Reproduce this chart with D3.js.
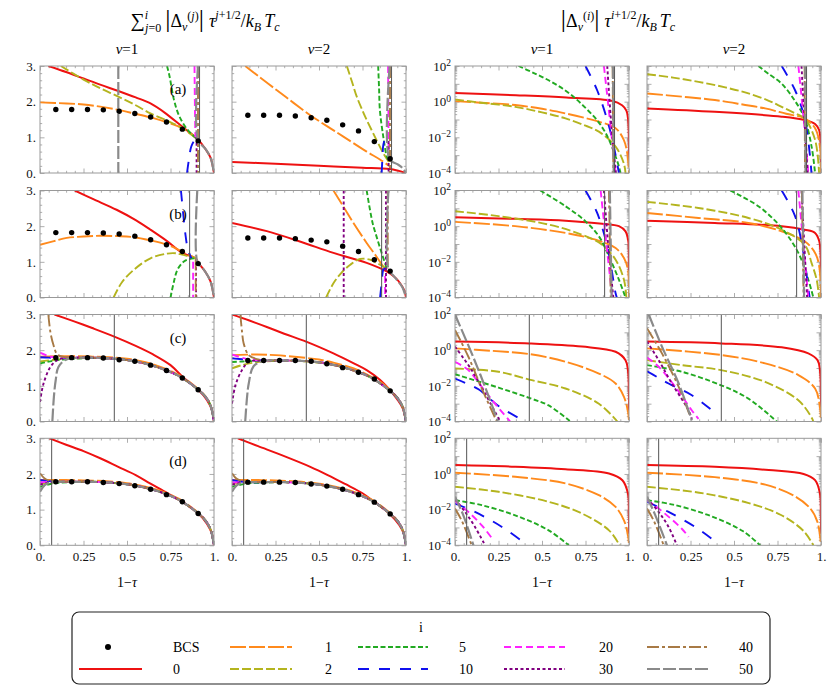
<!DOCTYPE html>
<html>
<head>
<meta charset="utf-8">
<script src="https://cdn.jsdelivr.net/npm/d3@7"></script>
<style>
  body { margin: 0; background: #fff; }
  svg, svg text { font-family: "Liberation Serif", "DejaVu Serif", serif; }
</style>
</head>
<body>
<script>
(function() {

    // Orders i and their look (same as in the legend).
    const orders = [0, 1, 2, 5, 10, 20, 30, 40, 50];
    const orderColors = ['#ee1111', '#ff8a1c', '#b4b41e', '#22aa22', '#1010ee', '#ff22ff', '#800080', '#a87a45', '#8a8a8a'];
    const orderDashes = [null, '16,3', '9,3', '5,2.5', '11,10', '7,4', '3,2.5', '12,3,3,3', '13,3'];
    const orderWidths = [2, 1.9, 1.9, 1.9, 1.9, 1.9, 1.9, 1.9, 2.2];

    const colTitles = ['ν=1', 'ν=2', 'ν=1', 'ν=2'];
    const rowLabels = ['(a)', '(b)', '(c)', '(d)'];
    const cutoffs = [0.917, 0.86, 0.427, 0.067];

    const xTicks = [0, 0.25, 0.5, 0.75, 1];
    const xTickLabels = ['0.', '0.25', '0.5', '0.75', '1.'];
    const xMinor = [0.05, 0.1, 0.15, 0.2, 0.3, 0.35, 0.4, 0.45, 0.55, 0.6, 0.65, 0.7, 0.8, 0.85, 0.9, 0.95];
    const linTicks = [0, 1, 2, 3];
    const linTickLabels = ['0.', '1.', '2.', '3.'];
    const linMinor = [0.2, 0.4, 0.6, 0.8, 1.2, 1.4, 1.6, 1.8, 2.2, 2.4, 2.6, 2.8];
    const logTicks = [1e-4, 1e-3, 1e-2, 1e-1, 1, 1e1, 1e2];
    const logLabelTicks = [1e-4, 1e-2, 1, 1e2];
    const logLabelExps = ['\u22124', '\u22122', '0', '2'];

    // BCS points
    const bcsX = [0.091, 0.182, 0.273, 0.364, 0.455, 0.545, 0.636, 0.727, 0.818, 0.909];
    const bcsA1 = [1.78, 1.78, 1.78, 1.77, 1.73, 1.67, 1.57, 1.43, 1.23, 0.90];
    const bcsA2 = [1.62, 1.62, 1.62, 1.60, 1.55, 1.48, 1.35, 1.18, 0.88, 0.40];
    const bcsB1 = [1.82, 1.82, 1.82, 1.81, 1.78, 1.72, 1.62, 1.48, 1.29, 0.95];
    const bcsB2 = [1.67, 1.67, 1.67, 1.65, 1.61, 1.56, 1.44, 1.29, 1.06, 0.74];
    const bcsC1 = [1.79, 1.79, 1.79, 1.78, 1.73, 1.69, 1.58, 1.43, 1.22, 0.89];
    const bcsC2 = [1.71, 1.71, 1.71, 1.71, 1.69, 1.62, 1.51, 1.38, 1.19, 0.86];
    const bcsD1 = [1.78, 1.78, 1.78, 1.76, 1.73, 1.67, 1.57, 1.42, 1.22, 0.89];
    const bcsD2 = [1.77, 1.77, 1.77, 1.76, 1.72, 1.66, 1.57, 1.42, 1.21, 0.88];

    // Partial sums, linear panels: [order, [[1-tau, value], ...]]
    const sumA1 = [
        [0, [[0.048, 3.0], [0.15, 2.83], [0.25, 2.65], [0.35, 2.47], [0.45, 2.3], [0.55, 2.12], [0.635, 1.95], [0.72, 1.68], [0.817, 1.30], [0.87, 1.10], [0.91, 0.93], [0.95, 0.68], [0.98, 0.43], [1, 0]]],
        [1, [[0, 1.98], [0.154, 1.95], [0.25, 1.92], [0.346, 1.86], [0.45, 1.77], [0.54, 1.67], [0.635, 1.56], [0.73, 1.42], [0.82, 1.25], [0.91, 0.93]]],
        [2, [[0.12, 3.0], [0.25, 2.62], [0.35, 2.37], [0.45, 2.14], [0.55, 1.90], [0.635, 1.67], [0.73, 1.47], [0.82, 1.25], [0.91, 0.93]]],
        [5, [[0.73, 3.0], [0.745, 2.7], [0.77, 2.05], [0.8, 1.6], [0.85, 1.2], [0.91, 0.93]]],
        [10, [[0.845, 0], [0.855, 0.35], [0.87, 0.75], [0.89, 0.92], [0.905, 0.95]]],
        [20, [[0.888, 3.0], [0.89, 2.0], [0.893, 1.0]]],
        [30, [[0.9, 1.0], [0.9, 0]]],
        [40, [[0.908, 3.0], [0.908, 0]]],
        [50, [[0.45, 3.0], [0.45, 0], null, [0.908, 3.0], [0.908, 0.93], [0.95, 0.68], [0.98, 0.43], [1, 0]]]
    ];
    const sumA2 = [
        [0, [[0, 0.31], [0.25, 0.26], [0.5, 0.2], [0.75, 0.15], [0.906, 0.11], [0.95, 0.07], [1, 0]]],
        [1, [[0.076, 3.0], [0.15, 2.72], [0.258, 2.32], [0.35, 1.98], [0.45, 1.62], [0.55, 1.30], [0.64, 1.02], [0.774, 0.60], [0.85, 0.38], [0.906, 0.19]]],
        [2, [[0.66, 3.0], [0.69, 2.55], [0.717, 2.14], [0.75, 1.75], [0.774, 1.49], [0.83, 0.93], [0.87, 0.55], [0.906, 0.28]]],
        [5, [[0.84, 3.0], [0.845, 2.4], [0.85, 1.76], [0.87, 1.0], [0.89, 0.46], [0.906, 0.3]]],
        [10, [[0.86, 0], [0.865, 0.45], [0.87, 0.8], [0.88, 0.93], [0.89, 0.9]]],
        [20, [[0.897, 3.0], [0.899, 1.5], [0.9, 0.6]]],
        [30, [[0.9, 0.9], [0.9, 0]]],
        [40, [[0.908, 3.0], [0.908, 0]]],
        [50, [[0.906, 3.0], [0.906, 0.38], [0.95, 0.25], [0.98, 0.14], [1, 0]]]
    ];
    const sumB1 = [
        [0, [[0.2, 3.0], [0.3, 2.77], [0.44, 2.46], [0.55, 2.17], [0.635, 1.90], [0.73, 1.58], [0.817, 1.25], [0.894, 1.1], [0.91, 0.97], [0.95, 0.72], [0.98, 0.45], [1, 0]]],
        [1, [[0, 1.48], [0.08, 1.58], [0.154, 1.67], [0.25, 1.71], [0.346, 1.73], [0.45, 1.72], [0.54, 1.69], [0.635, 1.60], [0.73, 1.48], [0.817, 1.29], [0.894, 1.1]]],
        [2, [[0.423, 0], [0.47, 0.42], [0.54, 0.78], [0.635, 1.1], [0.73, 1.23], [0.78, 1.24], [0.817, 1.2], [0.894, 1.1]]],
        [5, [[0.75, 0], [0.77, 0.45], [0.79, 0.78], [0.827, 1.01], [0.86, 1.08], [0.894, 1.1]]],
        [10, [[0.81, 3.0], [0.82, 2.5], [0.835, 1.8], [0.85, 1.35], [0.87, 1.1]]],
        [20, [[0.88, 1.0], [0.88, 0]]],
        [30, [[0.897, 1.0], [0.897, 0]]],
        [40, [[0.895, 1.1], [0.895, 0]]],
        [50, [[0.904, 3.0], [0.904, 1.0], [0.93, 0.85], [0.95, 0.72], [0.98, 0.45], [1, 0]]]
    ];
    const sumB2 = [
        [0, [[0, 2.09], [0.2, 1.86], [0.39, 1.57], [0.583, 1.25], [0.774, 0.97], [0.889, 0.73], [0.94, 0.55], [0.966, 0.40], [0.99, 0.2], [1, 0]]],
        [1, [[0.583, 3.0], [0.64, 2.55], [0.698, 2.09], [0.774, 1.53], [0.83, 1.15], [0.87, 0.87], [0.889, 0.8]]],
        [2, [[0.541, 0], [0.583, 0.40], [0.63, 0.7], [0.68, 0.92], [0.736, 1.08], [0.793, 1.06], [0.84, 0.95], [0.889, 0.8]]],
        [5, [[0.774, 3.0], [0.793, 2.46], [0.81, 2.05], [0.83, 1.72], [0.86, 1.25], [0.889, 0.82]]],
        [10, [[0.851, 0], [0.86, 0.4], [0.87, 0.78], [0.88, 0.82]]],
        [20, [[0.88, 0.6], [0.88, 0]]],
        [30, [[0.642, 3.0], [0.642, 0], null, [0.885, 3.0], [0.885, 0]]],
        [40, [[0.895, 3.0], [0.895, 0.8]]],
        [50, [[0.899, 3.0], [0.899, 0.8], [0.93, 0.6], [0.96, 0.42], [0.98, 0.28], [1, 0]]]
    ];
    const sumC1 = [
        [0, [[0.083, 3.0], [0.2, 2.8], [0.3, 2.62], [0.427, 2.38], [0.55, 2.12], [0.65, 1.88], [0.75, 1.58], [0.82, 1.25], [0.91, 0.89], [0.96, 0.6], [0.99, 0.3], [1, 0]]],
        [1, [[0, 1.82], [0.1, 1.83], [0.2, 1.83], [0.3, 1.82], [0.4, 1.80], [0.5, 1.76], [0.6, 1.67], [0.7, 1.52], [0.8, 1.30], [0.9, 0.95], [0.95, 0.71], [0.98, 0.45], [1, 0]]],
        [2, [[0, 1.68], [0.1, 1.74], [0.2, 1.77], [0.3, 1.78], [0.4, 1.76], [0.5, 1.72], [0.6, 1.63], [0.7, 1.48], [0.8, 1.27], [0.9, 0.93], [0.95, 0.70], [0.98, 0.45], [1, 0]]],
        [5, [[0, 1.63], [0.05, 1.68], [0.1, 1.72], [0.2, 1.76], [0.3, 1.78], [0.4, 1.77], [0.5, 1.72], [0.6, 1.63], [0.7, 1.48], [0.8, 1.27], [0.9, 0.93], [0.95, 0.70], [0.98, 0.45], [1, 0]]],
        [10, [[0, 1.80], [0.05, 1.79], [0.1, 1.78], [0.2, 1.79], [0.3, 1.79], [0.4, 1.77], [0.5, 1.72], [0.6, 1.63], [0.7, 1.48], [0.8, 1.27], [0.9, 0.93], [0.95, 0.70], [0.98, 0.45], [1, 0]]],
        [20, [[0, 1.93], [0.04, 1.85], [0.08, 1.80], [0.15, 1.79], [0.3, 1.79], [0.4, 1.77], [0.5, 1.72], [0.6, 1.63], [0.7, 1.48], [0.8, 1.27], [0.9, 0.93], [0.95, 0.70], [0.98, 0.45], [1, 0]]],
        [30, [[0, 0.55], [0.02, 1.06], [0.06, 1.53], [0.1, 1.72], [0.15, 1.78], [0.3, 1.79], [0.4, 1.77], [0.5, 1.72], [0.6, 1.63], [0.7, 1.48], [0.8, 1.27], [0.9, 0.93], [0.95, 0.70], [0.98, 0.45], [1, 0]]],
        [40, [[0.048, 3.0], [0.06, 2.5], [0.077, 2.15], [0.1, 1.88], [0.15, 1.80], [0.3, 1.79], [0.4, 1.77], [0.5, 1.72], [0.6, 1.63], [0.7, 1.48], [0.8, 1.27], [0.9, 0.93], [0.95, 0.70], [0.98, 0.45], [1, 0]]],
        [50, [[0.071, 0], [0.08, 0.7], [0.09, 1.15], [0.106, 1.53], [0.15, 1.74], [0.2, 1.78], [0.3, 1.79], [0.4, 1.77], [0.5, 1.72], [0.6, 1.63], [0.7, 1.48], [0.8, 1.27], [0.9, 0.93], [0.95, 0.70], [0.98, 0.45], [1, 0]]]
    ];
    const sumC2 = [
        [0, [[0, 3.0], [0.1, 2.83], [0.2, 2.65], [0.3, 2.46], [0.426, 2.24], [0.583, 1.91], [0.7, 1.63], [0.774, 1.44], [0.85, 1.17], [0.906, 0.89], [0.95, 0.62], [0.98, 0.38], [1, 0]]],
        [1, [[0, 1.86], [0.143, 1.88], [0.25, 1.86], [0.39, 1.80], [0.5, 1.74], [0.583, 1.65], [0.7, 1.49], [0.774, 1.32], [0.85, 1.12], [0.906, 0.9], [0.95, 0.67], [0.98, 0.42], [1, 0]]],
        [2, [[0, 1.49], [0.05, 1.57], [0.124, 1.65], [0.2, 1.69], [0.3, 1.70], [0.4, 1.69], [0.5, 1.65], [0.6, 1.56], [0.7, 1.42], [0.8, 1.22], [0.9, 0.89], [0.95, 0.66], [0.98, 0.42], [1, 0]]],
        [5, [[0, 1.67], [0.1, 1.69], [0.2, 1.71], [0.3, 1.71], [0.4, 1.70], [0.5, 1.66], [0.6, 1.57], [0.7, 1.43], [0.8, 1.23], [0.9, 0.89], [0.95, 0.66], [0.98, 0.42], [1, 0]]],
        [10, [[0, 1.77], [0.1, 1.73], [0.2, 1.71], [0.3, 1.71], [0.4, 1.70], [0.5, 1.66], [0.6, 1.57], [0.7, 1.43], [0.8, 1.23], [0.9, 0.89], [0.95, 0.66], [0.98, 0.42], [1, 0]]],
        [20, [[0, 1.88], [0.05, 1.80], [0.1, 1.74], [0.2, 1.71], [0.3, 1.71], [0.4, 1.70], [0.5, 1.66], [0.6, 1.57], [0.7, 1.43], [0.8, 1.23], [0.9, 0.89], [0.95, 0.66], [0.98, 0.42], [1, 0]]],
        [30, [[0, 0.50], [0.02, 1.02], [0.057, 1.44], [0.096, 1.67], [0.15, 1.71], [0.3, 1.71], [0.4, 1.70], [0.5, 1.66], [0.6, 1.57], [0.7, 1.43], [0.8, 1.23], [0.9, 0.89], [0.95, 0.66], [0.98, 0.42], [1, 0]]],
        [40, [[0.048, 3.0], [0.058, 2.5], [0.067, 2.19], [0.096, 1.86], [0.143, 1.75], [0.2, 1.72], [0.3, 1.71], [0.4, 1.70], [0.5, 1.66], [0.6, 1.57], [0.7, 1.43], [0.8, 1.23], [0.9, 0.89], [0.95, 0.66], [0.98, 0.42], [1, 0]]],
        [50, [[0.076, 0], [0.085, 0.6], [0.096, 1.06], [0.124, 1.55], [0.18, 1.70], [0.25, 1.71], [0.4, 1.70], [0.5, 1.66], [0.6, 1.57], [0.7, 1.43], [0.8, 1.23], [0.9, 0.89], [0.95, 0.66], [0.98, 0.42], [1, 0]]]
    ];
    const sumD1 = [
        [0, [[0.054, 3.0], [0.15, 2.82], [0.25, 2.64], [0.346, 2.44], [0.45, 2.2], [0.55, 1.97], [0.635, 1.73], [0.73, 1.47], [0.817, 1.22], [0.91, 0.89], [0.96, 0.6], [0.99, 0.3], [1, 0]]],
        [1, [[0, 1.83], [0.058, 1.83], [0.15, 1.83], [0.25, 1.82], [0.4, 1.79], [0.5, 1.74], [0.6, 1.65], [0.7, 1.51], [0.8, 1.30], [0.9, 0.95], [0.95, 0.71], [0.98, 0.45], [1, 0]]],
        [2, [[0, 1.72], [0.06, 1.75], [0.1, 1.77], [0.2, 1.78], [0.3, 1.78], [0.4, 1.76], [0.5, 1.71], [0.6, 1.62], [0.7, 1.48], [0.8, 1.27], [0.9, 0.93], [0.95, 0.70], [0.98, 0.45], [1, 0]]],
        [5, [[0, 1.64], [0.06, 1.72], [0.1, 1.75], [0.2, 1.77], [0.3, 1.78], [0.4, 1.76], [0.5, 1.71], [0.6, 1.62], [0.7, 1.48], [0.8, 1.27], [0.9, 0.93], [0.95, 0.70], [0.98, 0.45], [1, 0]]],
        [10, [[0, 1.83], [0.05, 1.80], [0.1, 1.78], [0.2, 1.78], [0.3, 1.78], [0.4, 1.76], [0.5, 1.71], [0.6, 1.62], [0.7, 1.48], [0.8, 1.27], [0.9, 0.93], [0.95, 0.70], [0.98, 0.45], [1, 0]]],
        [20, [[0, 1.76], [0.05, 1.78], [0.1, 1.78], [0.2, 1.78], [0.3, 1.78], [0.4, 1.76], [0.5, 1.71], [0.6, 1.62], [0.7, 1.48], [0.8, 1.27], [0.9, 0.93], [0.95, 0.70], [0.98, 0.45], [1, 0]]],
        [30, [[0, 1.70], [0.05, 1.76], [0.1, 1.78], [0.2, 1.78], [0.3, 1.78], [0.4, 1.76], [0.5, 1.71], [0.6, 1.62], [0.7, 1.48], [0.8, 1.27], [0.9, 0.93], [0.95, 0.70], [0.98, 0.45], [1, 0]]],
        [40, [[0, 2.02], [0.025, 1.88], [0.05, 1.82], [0.1, 1.79], [0.2, 1.78], [0.3, 1.78], [0.4, 1.76], [0.5, 1.71], [0.6, 1.62], [0.7, 1.48], [0.8, 1.27], [0.9, 0.93], [0.95, 0.70], [0.98, 0.45], [1, 0]]],
        [50, [[0, 1.50], [0.025, 1.68], [0.05, 1.75], [0.1, 1.78], [0.2, 1.78], [0.3, 1.78], [0.4, 1.76], [0.5, 1.71], [0.6, 1.62], [0.7, 1.48], [0.8, 1.27], [0.9, 0.93], [0.95, 0.70], [0.98, 0.45], [1, 0]]]
    ];
    const sumD2 = [
        [0, [[0.033, 3.0], [0.15, 2.78], [0.3, 2.5], [0.45, 2.2], [0.55, 1.97], [0.65, 1.72], [0.75, 1.46], [0.817, 1.22], [0.906, 0.88], [0.96, 0.58], [0.99, 0.3], [1, 0]]],
        [1, [[0, 1.83], [0.058, 1.83], [0.15, 1.83], [0.25, 1.82], [0.4, 1.78], [0.5, 1.73], [0.6, 1.64], [0.7, 1.50], [0.8, 1.29], [0.9, 0.94], [0.95, 0.70], [0.98, 0.44], [1, 0]]],
        [2, [[0, 1.72], [0.06, 1.74], [0.1, 1.76], [0.2, 1.77], [0.3, 1.77], [0.4, 1.75], [0.5, 1.70], [0.6, 1.61], [0.7, 1.47], [0.8, 1.26], [0.9, 0.92], [0.95, 0.69], [0.98, 0.44], [1, 0]]],
        [5, [[0, 1.64], [0.06, 1.71], [0.1, 1.74], [0.2, 1.76], [0.3, 1.77], [0.4, 1.75], [0.5, 1.70], [0.6, 1.61], [0.7, 1.47], [0.8, 1.26], [0.9, 0.92], [0.95, 0.69], [0.98, 0.44], [1, 0]]],
        [10, [[0, 1.83], [0.05, 1.79], [0.1, 1.77], [0.2, 1.77], [0.3, 1.77], [0.4, 1.75], [0.5, 1.70], [0.6, 1.61], [0.7, 1.47], [0.8, 1.26], [0.9, 0.92], [0.95, 0.69], [0.98, 0.44], [1, 0]]],
        [20, [[0, 1.76], [0.05, 1.77], [0.1, 1.77], [0.2, 1.77], [0.3, 1.77], [0.4, 1.75], [0.5, 1.70], [0.6, 1.61], [0.7, 1.47], [0.8, 1.26], [0.9, 0.92], [0.95, 0.69], [0.98, 0.44], [1, 0]]],
        [30, [[0, 1.70], [0.05, 1.75], [0.1, 1.77], [0.2, 1.77], [0.3, 1.77], [0.4, 1.75], [0.5, 1.70], [0.6, 1.61], [0.7, 1.47], [0.8, 1.26], [0.9, 0.92], [0.95, 0.69], [0.98, 0.44], [1, 0]]],
        [40, [[0, 2.02], [0.025, 1.87], [0.05, 1.81], [0.1, 1.78], [0.2, 1.77], [0.3, 1.77], [0.4, 1.75], [0.5, 1.70], [0.6, 1.61], [0.7, 1.47], [0.8, 1.26], [0.9, 0.92], [0.95, 0.69], [0.98, 0.44], [1, 0]]],
        [50, [[0, 1.50], [0.025, 1.67], [0.05, 1.74], [0.1, 1.77], [0.2, 1.77], [0.3, 1.77], [0.4, 1.75], [0.5, 1.70], [0.6, 1.61], [0.7, 1.47], [0.8, 1.26], [0.9, 0.92], [0.95, 0.69], [0.98, 0.44], [1, 0]]]
    ];

    // Single terms, log panels: [order, [[1-tau, log10 value], ...]]
    const termA3 = [
        [0, [[0, 0.49], [0.35, 0.36], [0.64, 0.23], [0.9, 0.05], [0.96, -0.2], [0.985, -0.5], [0.995, -1.0], [0.999, -2.0], [1, -3.4]]],
        [1, [[0, 0.03], [0.15, -0.06], [0.346, -0.19], [0.5, -0.4], [0.635, -0.66], [0.75, -0.92], [0.827, -1.12], [0.923, -1.49], [0.97, -2.14], [0.99, -2.9], [1, -4]]],
        [2, [[0, 0.12], [0.15, -0.06], [0.346, -0.29], [0.5, -0.6], [0.635, -0.94], [0.75, -1.35], [0.827, -1.68], [0.923, -2.52], [0.97, -3.45], [0.98, -4]]],
        [5, [[0.365, 2.0], [0.45, 1.62], [0.538, 1.2], [0.62, 0.72], [0.692, 0.18], [0.75, -0.35], [0.808, -0.94], [0.85, -1.5], [0.885, -2.14], [0.942, -3.63], [0.95, -4]]],
        [10, [[0.75, 2.0], [0.817, 0.64], [0.875, -1.03], [0.913, -2.52], [0.942, -4]]],
        [20, [[0.856, 2.0], [0.89, -1.0], [0.923, -4]]],
        [30, [[0.875, 2.0], [0.9, -1.5], [0.925, -4]]],
        [40, [[0.906, 2.0], [0.91, -4]]],
        [50, [[0.908, 2.0], [0.912, -4]]]
    ];
    const termA4 = [
        [0, [[0, -0.38], [0.39, -0.57], [0.774, -0.84], [0.906, -1.03], [0.966, -1.25], [0.989, -1.59], [0.998, -2.3], [1, -3.6]]],
        [1, [[0, 0.46], [0.2, 0.28], [0.39, 0.09], [0.55, -0.16], [0.679, -0.38], [0.8, -0.68], [0.906, -0.94], [0.966, -1.49], [0.994, -2.52], [1, -4]]],
        [2, [[0, 1.54], [0.15, 1.35], [0.296, 1.11], [0.45, 0.8], [0.583, 0.46], [0.7, 0.05], [0.774, -0.29], [0.85, -0.65], [0.906, -0.94], [0.966, -2.14], [0.989, -4]]],
        [5, [[0.64, 2.0], [0.7, 1.55], [0.774, 1.01], [0.85, 0.05], [0.906, -0.94], [0.946, -2.52], [0.966, -4]]],
        [10, [[0.774, 2.0], [0.851, 0.64], [0.906, -0.94], [0.937, -3.07], [0.945, -4]]],
        [20, [[0.87, 2.0], [0.9, -0.9], [0.927, -4]]],
        [30, [[0.888, 2.0], [0.905, -1.0], [0.923, -4]]],
        [40, [[0.906, 2.0], [0.908, -4]]],
        [50, [[0.909, 2.0], [0.911, -4]]]
    ];
    const termB3 = [
        [0, [[0, 0.5], [0.346, 0.41], [0.635, 0.31], [0.846, 0.14], [0.942, 0.0], [0.98, -0.29], [0.996, -0.85], [0.999, -2.0], [1, -3.4]]],
        [1, [[0, 0.24], [0.346, 0.0], [0.635, -0.38], [0.808, -0.76], [0.923, -1.23], [0.971, -1.79], [0.994, -2.45], [1, -4]]],
        [2, [[0, 0.84], [0.25, 0.56], [0.538, 0.09], [0.73, -0.48], [0.846, -1.04], [0.923, -1.88], [0.971, -3.0], [0.985, -4]]],
        [5, [[0.49, 2.0], [0.635, 1.12], [0.75, 0.27], [0.827, -0.57], [0.885, -1.7], [0.942, -3.0], [0.98, -4]]],
        [10, [[0.75, 2.0], [0.817, 0.74], [0.875, -1.13], [0.923, -3.76], [0.93, -4]]],
        [20, [[0.837, 2.0], [0.87, -1.0], [0.904, -4]]],
        [30, [[0.856, 2.0], [0.88, -1.0], [0.91, -4]]],
        [40, [[0.885, 2.0], [0.895, -4]]],
        [50, [[0.89, 2.0], [0.9, -4]]]
    ];
    const termB4 = [
        [0, [[0, 0.31], [0.39, 0.18], [0.774, 0.0], [0.906, -0.2], [0.966, -0.38], [0.99, -0.85], [0.999, -2.0], [1, -3.0]]],
        [1, [[0, 0.74], [0.296, 0.46], [0.583, 0.18], [0.774, -0.29], [0.906, -0.85], [0.966, -1.5], [0.99, -2.26], [1, -4]]],
        [2, [[0, 1.36], [0.296, 1.02], [0.583, 0.46], [0.774, -0.2], [0.906, -1.04], [0.946, -2.07], [0.975, -3.0], [0.989, -4]]],
        [5, [[0.478, 2.0], [0.64, 1.12], [0.774, -0.1], [0.87, -1.5], [0.927, -3.0], [0.956, -4]]],
        [10, [[0.774, 2.0], [0.851, 0.56], [0.899, -1.5], [0.931, -3.76], [0.935, -4]]],
        [20, [[0.87, 2.0], [0.927, -4]]],
        [30, [[0.888, 2.0], [0.92, -4]]],
        [40, [[0.89, 2.0], [0.9, -4]]],
        [50, [[0.893, 2.0], [0.903, -4]]]
    ];
    const termC3 = [
        [0, [[0, 0.48], [0.427, 0.38], [0.73, 0.2], [0.923, -0.09], [0.98, -0.56], [0.994, -1.12], [0.999, -2.2], [1, -3.4]]],
        [1, [[0, 0.1], [0.2, -0.03], [0.427, -0.22], [0.635, -0.65], [0.827, -1.31], [0.923, -1.87], [0.971, -2.62], [0.995, -3.5], [1, -4]]],
        [2, [[0, -1.03], [0.25, -1.21], [0.427, -1.65], [0.635, -2.15], [0.827, -3.0], [0.933, -4]]],
        [5, [[0, -1.35], [0.25, -2.1], [0.427, -2.68], [0.538, -3.1], [0.663, -4]]],
        [10, [[0, -1.59], [0.058, -1.83], [0.135, -2.19], [0.25, -3.13], [0.404, -4]]],
        [20, [[0, -0.65], [0.077, -1.12], [0.154, -2.06], [0.23, -3.0], [0.317, -4]]],
        [30, [[0, 0.2], [0.096, -1.12], [0.173, -2.44], [0.26, -4]]],
        [40, [[0, 1.14], [0.077, -0.37], [0.154, -2.15], [0.24, -4]]],
        [50, [[0, 2.0], [0.096, -0.18], [0.173, -2.06], [0.246, -4]]]
    ];
    const termC4 = [
        [0, [[0, 0.48], [0.426, 0.38], [0.774, 0.16], [0.927, -0.18], [0.98, -0.56], [0.994, -1.12], [0.999, -2.2], [1, -3.4]]],
        [1, [[0, 0.1], [0.426, -0.27], [0.679, -0.74], [0.87, -1.4], [0.966, -2.15], [0.994, -3.2], [1, -4]]],
        [2, [[0, -0.56], [0.2, -0.84], [0.426, -1.12], [0.679, -1.78], [0.87, -2.81], [0.95, -3.85], [0.955, -4]]],
        [5, [[0, -0.84], [0.2, -1.21], [0.426, -1.97], [0.583, -2.72], [0.746, -4]]],
        [10, [[0, -1.18], [0.057, -1.5], [0.124, -1.87], [0.258, -2.53], [0.409, -3.66]]],
        [20, [[0, -0.41], [0.067, -0.93], [0.163, -2.06], [0.258, -3.38], [0.296, -3.85]]],
        [30, [[0, 0.48], [0.067, -0.56], [0.143, -1.87], [0.239, -3.38], [0.258, -3.85]]],
        [40, [[0, 1.23], [0.086, -0.18], [0.182, -2.06], [0.249, -3.75]]],
        [50, [[0.01, 2.0], [0.086, 0.2], [0.182, -1.87], [0.258, -3.94]]]
    ];
    const termD3 = [
        [0, [[0, 0.5], [0.346, 0.41], [0.635, 0.27], [0.885, 0.03], [0.962, -0.35], [0.994, -1.1], [0.999, -2.2], [1, -3.35]]],
        [1, [[0, 0.07], [0.346, -0.16], [0.635, -0.53], [0.827, -1.19], [0.923, -1.85], [0.971, -2.6], [0.995, -3.5], [1, -4]]],
        [2, [[0, -0.72], [0.25, -1.0], [0.538, -1.56], [0.73, -2.22], [0.885, -3.16], [0.946, -4]]],
        [5, [[0, -1.47], [0.154, -1.75], [0.346, -2.32], [0.538, -3.16], [0.654, -4]]],
        [10, [[0, -1.66], [0.115, -2.13], [0.27, -2.97], [0.404, -3.91]]],
        [20, [[0, -1.53], [0.077, -2.13], [0.154, -2.88], [0.221, -3.72]]],
        [30, [[0, -1.43], [0.058, -2.13], [0.115, -2.97], [0.173, -4]]],
        [40, [[0, -1.94], [0.038, -2.6], [0.096, -4]]],
        [50, [[0, -1.28], [0.048, -2.32], [0.106, -4]]]
    ];
    const termD4 = [
        [0, [[0, 0.5], [0.39, 0.4], [0.7, 0.22], [0.9, 0.0], [0.966, -0.35], [0.994, -1.1], [0.999, -2.2], [1, -3.35]]],
        [1, [[0, 0.07], [0.39, -0.18], [0.68, -0.6], [0.85, -1.25], [0.94, -1.95], [0.98, -2.7], [1, -4]]],
        [2, [[0, -0.72], [0.3, -1.05], [0.58, -1.62], [0.77, -2.3], [0.9, -3.2], [0.956, -4]]],
        [5, [[0, -1.47], [0.15, -1.72], [0.35, -2.3], [0.55, -3.2], [0.65, -4]]],
        [10, [[0, -1.56], [0.124, -2.13], [0.277, -2.97], [0.409, -3.91]]],
        [20, [[0, -1.47], [0.067, -1.94], [0.2, -3.07], [0.239, -3.53]]],
        [30, [[0, -1.38], [0.067, -2.13], [0.124, -2.97], [0.172, -4]]],
        [40, [[0, -1.94], [0.038, -2.6], [0.096, -4]]],
        [50, [[0, -1.28], [0.048, -2.32], [0.115, -4]]]
    ];

    const W = 830, H = 687;
    const colLeft = [40, 232, 455, 647];
    const rowTop = [66, 190.5, 314.5, 438.3];
    const pw = 174, ph = 107;
    const frameColor = '#999';
    const serif = '"Liberation Serif", "DejaVu Serif", serif';

    const svg = d3.select('body').append('svg')
        .attr('width', W)
        .attr('height', H)
        .attr('font-family', serif);

    // text with sub / superscripts: [text, shift, size, italic, dx]
    const rich = (sel, parts) => {
        let cur = 0;
        parts.forEach(([t, shift, size, it, dx]) => {
            sel.append('tspan')
                .attr('dy', shift - cur)
                .attr('dx', dx || 0)
                .attr('font-size', size)
                .attr('font-style', it ? 'italic' : 'normal')
                .text(t);
            cur = shift;
        });
    };

    // d3 axes put sans-serif on their groups: undo that and drop the domain path
    const styleAxis = g => {
        g.selectAll('g').attr('font-family', null).attr('font-size', null);
        g.selectAll('.domain').remove();
        g.selectAll('.tick line').attr('stroke', frameColor).attr('stroke-width', 0.8);
        g.selectAll('.tick text')
            .attr('fill', '#111')
            .attr('font-family', serif)
            .attr('font-size', 13);
    };

    const drawPanel = (col, row, series, bcs) => {
        const left = colLeft[col], top = rowTop[row];
        const isLog = col >= 2;
        const x = d3.scaleLinear().domain([0, 1]).range([left, left + pw]);
        const y = isLog
            ? d3.scaleLog().domain([1e-4, 1e2]).range([top + ph, top])
            : d3.scaleLinear().domain([0, 3]).range([top + ph, top]);
        const yv = v => isLog ? Math.pow(10, v) : v;

        const g = svg.append('g');

        // X ticks, bottom (with labels on last row) and top
        const bottom = g.append('g').attr('transform', `translate(0,${top + ph})`);
        bottom.append('g').call(d3.axisBottom(x).tickValues(xMinor).tickSize(-2.2).tickFormat(''));
        bottom.append('g').call(d3.axisBottom(x).tickValues(xTicks).tickSize(-4.5).tickPadding(6)
            .tickFormat((d, i) => row === 3 ? xTickLabels[i] : ''));
        styleAxis(bottom);
        const topAx = g.append('g').attr('transform', `translate(0,${top})`);
        topAx.append('g').call(d3.axisTop(x).tickValues(xMinor).tickSize(-2.2).tickFormat(''));
        topAx.append('g').call(d3.axisTop(x).tickValues(xTicks).tickSize(-4.5).tickFormat(''));
        styleAxis(topAx);

        // Y ticks, left (with labels in columns 1 and 3) and right
        const yMajor = isLog ? logTicks : linTicks;
        const yMinor = isLog ? y.ticks().filter(v => !logTicks.some(t => Math.abs(t - v) / t < 1e-6)) : linMinor;
        const leftAx = g.append('g').attr('transform', `translate(${left},0)`);
        leftAx.append('g').call(d3.axisLeft(y).tickValues(yMinor).tickSize(-2.2).tickFormat(''));
        leftAx.append('g').call(d3.axisLeft(y).tickValues(yMajor).tickSize(-4.5).tickFormat(''));
        let lab = null;
        if (col === 0 || col === 2) {
            lab = leftAx.append('g').call(d3.axisLeft(y)
                .tickValues(isLog ? logLabelTicks : linTicks).tickSize(0).tickPadding(4)
                .tickFormat((d, i) => isLog ? '10' : linTickLabels[i]));
        }
        styleAxis(leftAx);
        if (lab && isLog) {
            lab.selectAll('.tick text').each(function(d, i) {
                d3.select(this).append('tspan')
                    .attr('dy', '-0.5em')
                    .attr('font-size', 9.5)
                    .text(logLabelExps[i]);
            });
        }
        const rightAx = g.append('g').attr('transform', `translate(${left + pw},0)`);
        rightAx.append('g').call(d3.axisRight(y).tickValues(yMinor).tickSize(-2.2).tickFormat(''));
        rightAx.append('g').call(d3.axisRight(y).tickValues(yMajor).tickSize(-4.5).tickFormat(''));
        styleAxis(rightAx);

        // curves
        const clipId = `clip-${row}-${col}`;
        svg.append('clipPath').attr('id', clipId)
            .append('rect')
            .attr('x', left).attr('y', top)
            .attr('width', pw).attr('height', ph);

        const plot = g.append('g').attr('clip-path', `url(#${clipId})`);

        const line = d3.line()
            .defined(d => d !== null)
            .x(d => x(d[0]))
            .y(d => y(yv(d[1])))
            .curve(d3.curveCatmullRom.alpha(0.5));

        series.forEach(([order, pts]) => {
            const k = orders.indexOf(order);
            plot.append('path')
                .attr('d', line(pts))
                .attr('fill', 'none')
                .attr('stroke', orderColors[k])
                .attr('stroke-width', orderWidths[k])
                .attr('stroke-dasharray', orderDashes[k]);
        });

        // convergence marker
        plot.append('line')
            .attr('x1', x(cutoffs[row])).attr('x2', x(cutoffs[row]))
            .attr('y1', top).attr('y2', top + ph)
            .attr('stroke', '#555')
            .attr('stroke-width', 1);

        if (bcs) {
            plot.selectAll('circle.bcs')
                .data(bcs)
                .join('circle')
                .attr('class', 'bcs')
                .attr('cx', (d, i) => x(bcsX[i]))
                .attr('cy', d => y(d))
                .attr('r', 2.7)
                .attr('fill', '#000');
        }

        g.append('rect')
            .attr('x', left).attr('y', top)
            .attr('width', pw).attr('height', ph)
            .attr('fill', 'none')
            .attr('stroke', frameColor)
            .attr('stroke-width', 1);

        if (col === 0) {
            g.append('text')
                .attr('x', left + 138).attr('y', top + 28)
                .attr('text-anchor', 'middle')
                .attr('font-size', 15)
                .text(rowLabels[row]);
        }
    };

    const panels = [
        [0, 0, sumA1, bcsA1], [1, 0, sumA2, bcsA2], [2, 0, termA3, null], [3, 0, termA4, null],
        [0, 1, sumB1, bcsB1], [1, 1, sumB2, bcsB2], [2, 1, termB3, null], [3, 1, termB4, null],
        [0, 2, sumC1, bcsC1], [1, 2, sumC2, bcsC2], [2, 2, termC3, null], [3, 2, termC4, null],
        [0, 3, sumD1, bcsD1], [1, 3, sumD2, bcsD2], [2, 3, termD3, null], [3, 3, termD4, null]
    ];
    panels.forEach(p => drawPanel(...p));

    // column headers and x-axis titles
    colTitles.forEach((t, c) => {
        const cx = colLeft[c] + pw / 2;
        const th = svg.append('text')
            .attr('x', cx).attr('y', 54)
            .attr('text-anchor', 'middle')
            .attr('font-size', 15);
        rich(th, [['ν', 0, 15, true], [t.slice(1), 0, 15, false]]);

        const xt = svg.append('text')
            .attr('x', cx).attr('y', 587)
            .attr('text-anchor', 'middle')
            .attr('font-size', 14);
        rich(xt, [['1\u2212', 0, 14, false], ['τ', 0, 14, true]]);
    });

    // titles
    const t1 = svg.append('text').attr('x', 205).attr('y', 27).attr('text-anchor', 'middle');
    rich(t1, [
        ['∑', 0, 20, false], ['i', -8, 12, true], ['j', 5, 12, true, -3], ['=0', 5, 12, false],
        ['|', 0, 26, false, 4], ['Δ', 0, 18, false], ['ν', 4, 12, true],
        ['(', -7, 12, false], ['j', -7, 12, true], [')', -7, 12, false],
        ['|', 0, 26, false], ['τ', 0, 18, true, 5], ['j', -8, 12, true], ['+1/2', -8, 12, false],
        ['/', 0, 18, false], ['k', 0, 18, true], ['B', 4, 12, true], ['T', 0, 18, true, 3], ['c', 4, 12, true]
    ]);
    const t2 = svg.append('text').attr('x', 618).attr('y', 27).attr('text-anchor', 'middle');
    rich(t2, [
        ['|', 0, 26, false], ['Δ', 0, 18, false], ['ν', 4, 12, true],
        ['(', -7, 12, false], ['i', -7, 12, true], [')', -7, 12, false],
        ['|', 0, 26, false], ['τ', 0, 18, true, 5], ['i', -8, 12, true], ['+1/2', -8, 12, false],
        ['/', 0, 18, false], ['k', 0, 18, true], ['B', 4, 12, true], ['T', 0, 18, true, 3], ['c', 4, 12, true]
    ]);

    // Legend
    const legendRows = [
        ['BCS', 1, 5, 20, 40],
        [0, 2, 10, 30, 50]
    ];
    const legendSymX = [[79, 142], [230, 292], [358, 428], [504, 565], [647, 709]];
    const legendTextX = [173, 325, 459, 599, 739];
    const legendRowY = [647, 669];

    const leg = svg.append('g');
    leg.append('rect')
        .attr('x', 72).attr('y', 612)
        .attr('width', 698).attr('height', 72)
        .attr('rx', 7)
        .attr('fill', 'none')
        .attr('stroke', '#222')
        .attr('stroke-width', 1.2);
    leg.append('text')
        .attr('x', 421).attr('y', 632)
        .attr('text-anchor', 'middle')
        .attr('font-size', 14)
        .text('i');

    legendRows.forEach((rowItems, r) => {
        rowItems.forEach((item, c) => {
            const yy = legendRowY[r];
            const [xa, xb] = legendSymX[c];
            if (item === 'BCS') {
                leg.append('circle').attr('cx', 108).attr('cy', yy).attr('r', 3).attr('fill', '#000');
            } else {
                const k = orders.indexOf(item);
                leg.append('line')
                    .attr('x1', xa).attr('x2', xb)
                    .attr('y1', yy).attr('y2', yy)
                    .attr('stroke', orderColors[k])
                    .attr('stroke-width', orderWidths[k])
                    .attr('stroke-dasharray', orderDashes[k]);
            }
            leg.append('text')
                .attr('x', legendTextX[c]).attr('y', yy + 4.5)
                .attr('font-size', 14)
                .text(item);
        });
    });

})();
</script>
</body>
</html>
